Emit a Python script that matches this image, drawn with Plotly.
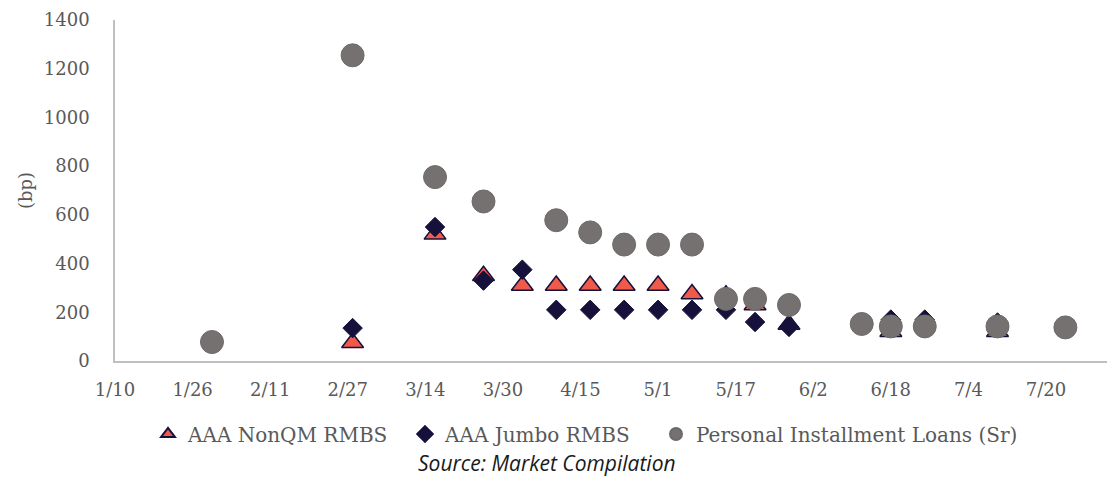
import plotly.graph_objects as go

# Spread observations (bp), 2020
nonqm_dates = ["2020-02-28", "2020-03-16", "2020-03-26", "2020-04-03", "2020-04-10",
               "2020-04-17", "2020-04-24", "2020-05-01", "2020-05-08", "2020-05-15",
               "2020-05-21", "2020-05-28", "2020-06-18", "2020-07-10"]
nonqm_bp = [75, 520, 350, 310, 310, 310, 310, 310, 275, 270, 230, 150, 120, 120]

jumbo_dates = ["2020-02-28", "2020-03-16", "2020-03-26", "2020-04-03", "2020-04-10",
               "2020-04-17", "2020-04-24", "2020-05-01", "2020-05-08", "2020-05-15",
               "2020-05-21", "2020-05-28", "2020-06-18", "2020-06-25", "2020-07-10"]
jumbo_bp = [135, 550, 330, 375, 210, 210, 210, 210, 210, 210, 160, 140, 170, 170, 158]

loans_dates = ["2020-01-30", "2020-02-28", "2020-03-16", "2020-03-26", "2020-04-10",
               "2020-04-17", "2020-04-24", "2020-05-01", "2020-05-08", "2020-05-15",
               "2020-05-21", "2020-05-28", "2020-06-12", "2020-06-18", "2020-06-25",
               "2020-07-10", "2020-07-24"]
loans_bp = [78, 1255, 755, 655, 578, 528, 478, 478, 478, 255, 255, 230, 152, 142, 142, 142, 138]

series_names = ["AAA NonQM RMBS", "AAA Jumbo RMBS", "Personal Installment Loans (Sr)"]

NAVY = "#15113b"
CORAL = "#f05a4b"
GRAY = "#757171"
TEXT = "#595959"
SERIF = "DejaVu Serif"

fig = go.Figure()
fig.add_trace(go.Scatter(
    x=nonqm_dates, y=nonqm_bp, mode="markers", name=series_names[0],
    legendwidth=212,
    marker=dict(symbol="triangle-up", size=19, color=CORAL,
                line=dict(color=NAVY, width=1.5)),
))
fig.add_trace(go.Scatter(
    x=jumbo_dates, y=jumbo_bp, mode="markers", name=series_names[1],
    legendwidth=206,
    marker=dict(symbol="diamond", size=15, color=NAVY,
                line=dict(color=NAVY, width=1)),
))
fig.add_trace(go.Scatter(
    x=loans_dates, y=loans_bp, mode="markers", name=series_names[2],
    marker=dict(symbol="circle", size=23, color=GRAY,
                line=dict(color="#6e6a6a", width=1)),
))

fig.update_layout(
    width=1107, height=477,
    margin=dict(l=115, r=0, t=20, b=116),
    paper_bgcolor="white", plot_bgcolor="white",
    font=dict(family=SERIF, size=18, color=TEXT),
    showlegend=True,
    legend=dict(
        orientation="h", xref="container", yref="container",
        x=(168 - 20) / 1107, xanchor="left", y=1 - 434 / 477, yanchor="middle",
        font=dict(family=SERIF, size=20, color=TEXT),
        itemsizing="constant", traceorder="normal",
        bgcolor="rgba(0,0,0,0)",
    ),
    xaxis=dict(
        type="date",
        range=["2020-01-10", "2020-08-01 14:00"],
        tick0="2020-01-10", dtick=16 * 86400000,
        tickformat="%-m/%-d",
        showgrid=False, zeroline=False,
        showline=True, linecolor="#bfbfbf", linewidth=1.5,
        ticks="", ticklabelstandoff=12,
        tickfont=dict(family=SERIF, size=18, color=TEXT),
    ),
    yaxis=dict(
        range=[0, 1400], dtick=200,
        showgrid=False, zeroline=False,
        showline=True, linecolor="#bfbfbf", linewidth=1.5,
        ticks="", ticklabelstandoff=20,
        tickfont=dict(family=SERIF, size=18, color=TEXT),
        title=dict(text="(bp)", standoff=7,
                   font=dict(family=SERIF, size=18, color=TEXT)),
    ),
    annotations=[dict(
        text="<i>Source: Market Compilation</i>",
        xref="paper", yref="paper",
        x=(547 - 115) / 992, y=(361 - 463) / 341,
        xanchor="center", yanchor="middle", showarrow=False,
        font=dict(family="Open Sans", size=21, color="#1a1a1a"),
    )],
)

fig.write_html("out.html")
